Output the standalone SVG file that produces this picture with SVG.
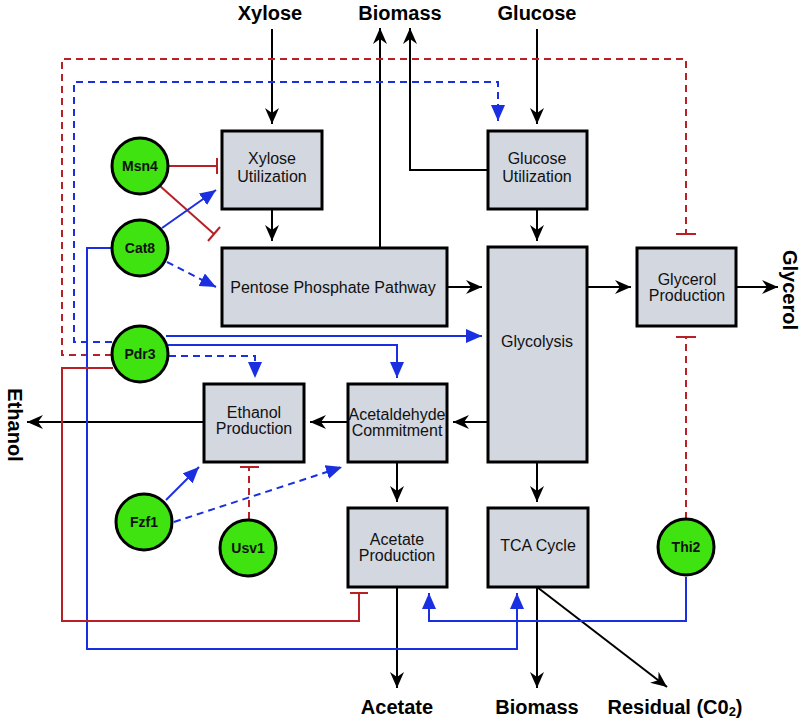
<svg xmlns="http://www.w3.org/2000/svg" width="800" height="720" viewBox="0 0 800 720">
<defs>
<marker id="ak" markerUnits="userSpaceOnUse" markerWidth="18" markerHeight="16" refX="16" refY="7" orient="auto"><path d="M0,0 L16,7 L0,14 L5,7 z" fill="#000"/></marker>
<marker id="ab" markerUnits="userSpaceOnUse" markerWidth="18" markerHeight="16" refX="16" refY="7" orient="auto"><path d="M0,0 L16,7 L0,14 z" fill="#1a2fe0"/></marker>
</defs>
<style>
.box{fill:#d3d7e0;stroke:#000;stroke-width:3}
.bt{font-family:"Liberation Sans",Arial,sans-serif;font-size:16px;text-anchor:middle;fill:#111}
.circ{fill:#3fe30f;stroke:#000;stroke-width:3}
.ct{font-family:"Liberation Sans",Arial,sans-serif;font-size:14px;font-weight:bold;text-anchor:middle;fill:#111}
.ot{font-family:"Liberation Sans",Arial,sans-serif;font-size:20px;font-weight:bold;text-anchor:middle;fill:#000}
.k{stroke:#000;stroke-width:2;fill:none;marker-end:url(#ak)}
.b{stroke:#1a2fe0;stroke-width:2;fill:none}
.ba{stroke:#1a2fe0;stroke-width:2;fill:none;marker-end:url(#ab)}
.bd{stroke-dasharray:7,5}
.r{stroke:#b82025;stroke-width:2;fill:none}
.rd{stroke-dasharray:7,5}
</style>
<g id="connectors">
<path class="k" d="M272,29 V124"/>
<path class="k" d="M537,29 V124"/>
<path class="k" d="M380,247 V28"/>
<path class="k" d="M488,170 H410 V28"/>
<path class="k" d="M272,209 V241"/>
<path class="k" d="M537,209 V241"/>
<path class="k" d="M447,287 H482"/>
<path class="k" d="M587,287 H631"/>
<path class="k" d="M736,287 H778"/>
<path class="k" d="M488,422 H453"/>
<path class="k" d="M348,422 H310"/>
<path class="k" d="M204,422 H27"/>
<path class="k" d="M397,462 V502"/>
<path class="k" d="M537,462 V502"/>
<path class="k" d="M397,587 V688"/>
<path class="k" d="M537,587 V688"/>
<path class="k" d="M537,587 L667,687"/>
<path class="r rd" d="M112,355 H62 V59 H686 V234"/>
<path class="r" d="M676,234 H696"/>
<path class="ba bd" d="M112,342 H74 V82 H498 V121"/>
<path class="r" d="M168,166 H217"/>
<path class="r" d="M217,158 V174"/>
<path class="r" d="M160,186 L214,234"/>
<path class="r" d="M208,241 L220,227"/>
<path class="ba" d="M162,228 L216,190"/>
<path class="ba bd" d="M167,262 L216,287"/>
<path class="ba" d="M112,248 H87 V649 H517 V593"/>
<path class="ba" d="M166,336 H482"/>
<path class="ba" d="M168,345 H397 V378"/>
<path class="ba bd" d="M169,356 H255 V378"/>
<path class="r" d="M113,368 H62 V621 H359 V593"/>
<path class="r" d="M350,593 H368"/>
<path class="ba" d="M166,500 L199,467"/>
<path class="ba bd" d="M174,522 L342,467"/>
<path class="r rd" d="M249,519 V467"/>
<path class="r" d="M240,467 H259"/>
<path class="r rd" d="M686,519 V337"/>
<path class="r" d="M676,337 H696"/>
<path class="ba" d="M686,577 V621 H429 V593"/>
</g>
<g id="xylose-util"><rect class="box" x="222" y="131" width="100" height="78"/><text class="bt" x="272" y="164">Xylose</text><text class="bt" x="272" y="182">Utilization</text></g>
<g id="glucose-util"><rect class="box" x="488" y="131" width="99" height="78"/><text class="bt" x="537" y="164">Glucose</text><text class="bt" x="537" y="182">Utilization</text></g>
<g id="ppp"><rect class="box" x="222" y="248" width="225" height="78"/><text class="bt" x="333" y="293">Pentose Phosphate Pathway</text></g>
<g id="glycolysis"><rect class="box" x="488" y="247" width="99" height="215"/><text class="bt" x="537" y="347">Glycolysis</text></g>
<g id="glycerol-prod"><rect class="box" x="637" y="248" width="99" height="78"/><text class="bt" x="687" y="285">Glycerol</text><text class="bt" x="687" y="301">Production</text></g>
<g id="ethanol-prod"><rect class="box" x="204" y="384" width="100" height="78"/><text class="bt" x="254" y="418">Ethanol</text><text class="bt" x="254" y="434">Production</text></g>
<g id="acetaldehyde"><rect class="box" x="348" y="384" width="99" height="78"/><text class="bt" x="397" y="420" font-size="15.5">Acetaldehyde</text><text class="bt" x="397" y="436" font-size="15.5">Commitment</text></g>
<g id="acetate-prod"><rect class="box" x="348" y="508" width="99" height="79"/><text class="bt" x="397" y="545">Acetate</text><text class="bt" x="397" y="561">Production</text></g>
<g id="tca"><rect class="box" x="488" y="508" width="100" height="79"/><text class="bt" x="538" y="551">TCA Cycle</text></g>
<g id="msn4"><circle class="circ" cx="140" cy="166" r="28"/><text class="ct" x="140" y="171">Msn4</text></g>
<g id="cat8"><circle class="circ" cx="140" cy="248" r="28"/><text class="ct" x="140" y="253">Cat8</text></g>
<g id="pdr3"><circle class="circ" cx="140" cy="354" r="28"/><text class="ct" x="140" y="359">Pdr3</text></g>
<g id="fzf1"><circle class="circ" cx="144" cy="522" r="28"/><text class="ct" x="144" y="527">Fzf1</text></g>
<g id="usv1"><circle class="circ" cx="248" cy="548" r="28"/><text class="ct" x="248" y="553">Usv1</text></g>
<g id="thi2"><circle class="circ" cx="686" cy="547" r="28"/><text class="ct" x="686" y="552">Thi2</text></g>
<g id="labels">
<text class="ot" x="270" y="20">Xylose</text>
<text class="ot" x="400" y="20">Biomass</text>
<text class="ot" x="537" y="20">Glucose</text>
<text class="ot" transform="translate(783,290) rotate(90)" x="0" y="0">Glycerol</text>
<text class="ot" transform="translate(8,425) rotate(90)" x="0" y="0">Ethanol</text>
<text class="ot" x="397" y="714">Acetate</text>
<text class="ot" x="537" y="714">Biomass</text>
<text class="ot" x="675" y="714">Residual (C0<tspan font-size="13" dy="2">2</tspan><tspan dy="-2">)</tspan></text>
</g>
</svg>
